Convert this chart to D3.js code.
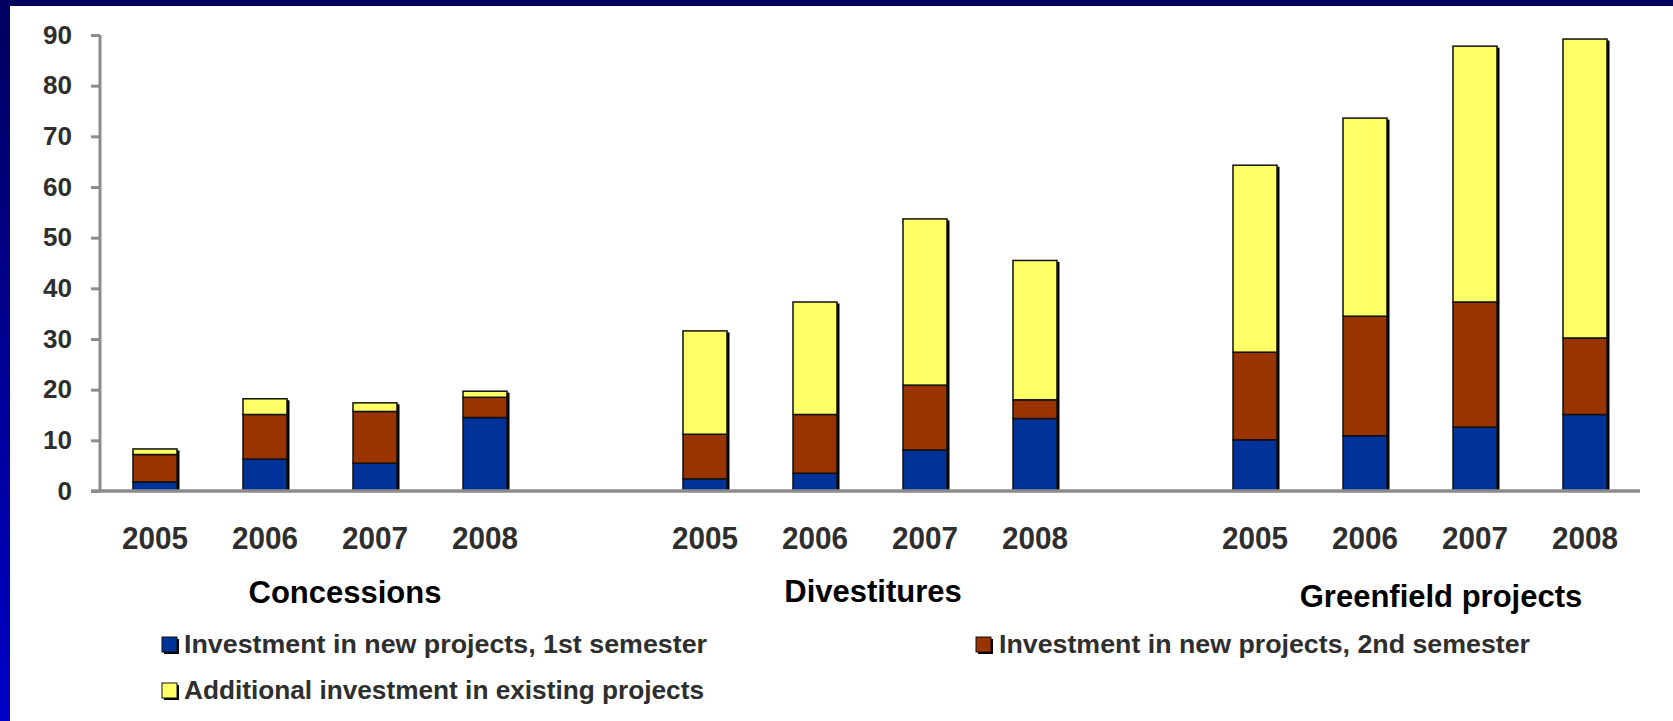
<!DOCTYPE html>
<html>
<head>
<meta charset="utf-8">
<script src="https://cdn.jsdelivr.net/npm/d3@7/dist/d3.min.js"></script>
<style>
  html, body { margin: 0; padding: 0; background: #fff; }
  svg { display: block; font-family: "Liberation Sans", Arial, sans-serif; }
</style>
</head>
<body>
<svg id="chart" width="1673" height="721"></svg>
<script>
// ---------------- data ----------------
const groups = ["Concessions", "Divestitures", "Greenfield projects"];
const years = ["2005", "2006", "2007", "2008"];
const seriesNames = [
  "Investment in new projects, 1st semester",
  "Investment in new projects, 2nd semester",
  "Additional investment in existing projects"
];
// values ordered: Concessions 2005..2008, Divestitures 2005..2008, Greenfield 2005..2008
const firstSemester  = [1.8, 6.3, 5.5, 14.5,   2.4, 3.5, 8.1, 14.3,   10.1, 10.9, 12.6, 15.1];
const secondSemester = [5.4, 8.8, 10.2, 4.0,   8.8, 11.6, 12.8, 3.7,  17.3, 23.6, 24.7, 15.1];
const additional     = [1.1, 3.1, 1.7, 1.2,    20.4, 22.2, 32.8, 27.5, 36.9, 39.1, 50.5, 59.0];
const yTicks = [0, 10, 20, 30, 40, 50, 60, 70, 80, 90];

// ---------------- styles / layout ----------------
const colors = ["#003399", "#993300", "#FFFF66"];
const W = 1673, H = 721;
const plot = { left: 100, right: 1640, top: 35, bottom: 491 };
const titleOffsets = [25, 3, 21];
const titleBaselines = [603, 602, 607];

const svg = d3.select("#chart");

// background frame
const defs = svg.append("defs");
const lg = defs.append("linearGradient").attr("id", "leftGrad")
  .attr("x1", 0).attr("y1", 0).attr("x2", 0).attr("y2", 1);
lg.append("stop").attr("offset", "0%").attr("stop-color", "#000060");
lg.append("stop").attr("offset", "100%").attr("stop-color", "#0000c8");
svg.append("rect").attr("x", 0).attr("y", 0).attr("width", W).attr("height", H).attr("fill", "#fff");
svg.append("rect").attr("x", 0).attr("y", 0).attr("width", 10).attr("height", H).attr("fill", "url(#leftGrad)");
svg.append("rect").attr("x", 0).attr("y", 0).attr("width", W).attr("height", 6).attr("fill", "#000060");

// build rows
const rows = [];
groups.forEach((g, gi) => {
  years.forEach((yr, yi) => {
    const i = gi * years.length + yi;
    rows.push({ key: g + "|" + yr, group: g, year: yr,
      v0: firstSemester[i], v1: secondSemester[i], v2: additional[i] });
  });
});

// slots: year categories with a blank slot between groups
const slots = [];
groups.forEach((g, gi) => {
  years.forEach(yr => slots.push(g + "|" + yr));
  if (gi < groups.length - 1) slots.push("gap" + gi);
});

const x = d3.scaleBand().domain(slots).range([plot.left, plot.right])
  .paddingInner(0.6).paddingOuter(0.3);
const y = d3.scaleLinear().domain([0, 90]).range([plot.bottom, plot.top]);

const stack = d3.stack().keys(["v0", "v1", "v2"]);
const stacked = stack(rows);

// shadows
const gBars = svg.append("g");
gBars.selectAll("rect.shadow").data(rows).join("rect")
  .attr("class", "shadow")
  .attr("x", d => x(d.key) + 2.5)
  .attr("y", d => y(d.v0 + d.v1 + d.v2) + 1.5)
  .attr("width", x.bandwidth())
  .attr("height", d => y(0) - y(d.v0 + d.v1 + d.v2) - 1.5)
  .attr("fill", "#000");

stacked.forEach((layer, li) => {
  gBars.selectAll("rect.s" + li).data(layer).join("rect")
    .attr("class", "s" + li)
    .attr("x", d => x(d.data.key))
    .attr("y", d => y(d[1]))
    .attr("width", x.bandwidth())
    .attr("height", d => y(d[0]) - y(d[1]))
    .attr("fill", colors[li])
    .attr("stroke", "#111")
    .attr("stroke-width", 1.5);
});

// y axis
const yAxis = svg.append("g").attr("transform", `translate(${plot.left},0)`)
  .call(d3.axisLeft(y).tickValues(yTicks).tickSize(9).tickPadding(19));
yAxis.select(".domain").attr("stroke", "#8c8c8c").attr("stroke-width", 3)
  .attr("d", `M0,${plot.top}V${plot.bottom}`);
yAxis.selectAll(".tick line").attr("stroke", "#8c8c8c").attr("stroke-width", 3);
yAxis.selectAll(".tick text").attr("fill", "#2e2e2e")
  .style("font-size", "26px").style("font-weight", "bold")
  .style("font-family", '"Liberation Sans", Arial, sans-serif');

// x axis line
svg.append("line").attr("x1", plot.left - 9).attr("x2", plot.right)
  .attr("y1", y(0)).attr("y2", y(0))
  .attr("stroke", "#8c8c8c").attr("stroke-width", 3.5);

// year labels
const xAxis = svg.append("g").attr("transform", `translate(0,${plot.bottom})`)
  .call(d3.axisBottom(x).tickValues(rows.map(r => r.key))
    .tickFormat(k => k.split("|")[1]).tickSize(0).tickPadding(35));
xAxis.select(".domain").remove();
xAxis.selectAll(".tick text").attr("fill", "#2e2e2e")
  .style("font-size", "32px").style("font-weight", "bold")
  .style("font-family", '"Liberation Sans", Arial, sans-serif')
  .attr("textLength", 66).attr("lengthAdjust", "spacingAndGlyphs");

// group titles
groups.forEach((g, gi) => {
  const first = x(g + "|" + years[0]) + x.bandwidth() / 2;
  const last = x(g + "|" + years[years.length - 1]) + x.bandwidth() / 2;
  svg.append("text")
    .attr("x", (first + last) / 2 + titleOffsets[gi])
    .attr("y", titleBaselines[gi])
    .attr("text-anchor", "middle")
    .style("font-size", "31px").style("font-weight", "bold")
    .attr("fill", "#000")
    .text(g);
});

// legend
const legendPos = [
  { sx: 162, tx: 184, base: 653, len: 523 },
  { sx: 976, tx: 999, base: 653, len: 531 },
  { sx: 162, tx: 184, base: 699, len: 520 }
];
seriesNames.forEach((name, i) => {
  const p = legendPos[i];
  const g = svg.append("g");
  g.append("rect").attr("x", p.sx + 2).attr("y", p.base - 16 + 2)
    .attr("width", 15).attr("height", 15).attr("fill", "#000");
  g.append("rect").attr("x", p.sx).attr("y", p.base - 16)
    .attr("width", 15).attr("height", 15).attr("fill", colors[i])
    .attr("stroke", "#111").attr("stroke-width", 1);
  g.append("text").attr("x", p.tx).attr("y", p.base)
    .style("font-size", "25px").style("font-weight", "bold")
    .attr("fill", "#2e2e2e")
    .attr("textLength", p.len).attr("lengthAdjust", "spacingAndGlyphs")
    .text(name);
});
</script>
</body>
</html>
